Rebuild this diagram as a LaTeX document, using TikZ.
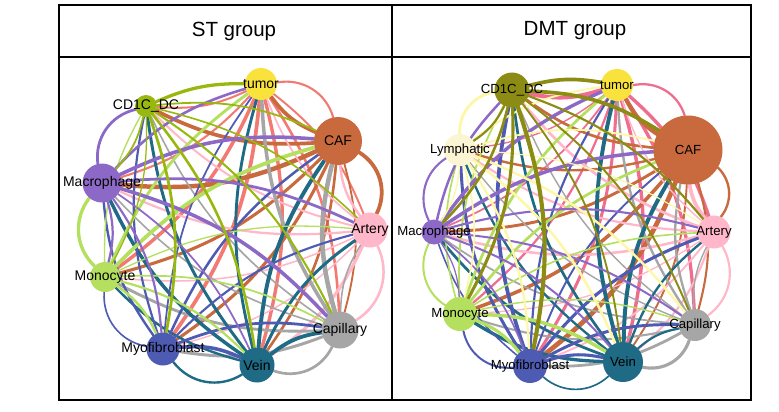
\documentclass[tikz,border=0pt]{standalone}
\usepackage{fontspec}
\setmainfont{Liberation Sans}
\usetikzlibrary{backgrounds}
\definecolor{col_tumor}{HTML}{F9E23C}
\definecolor{col_caf}{HTML}{C86A3E}
\definecolor{col_artery}{HTML}{FFB7C9}
\definecolor{col_capillary}{HTML}{A6A6A6}
\definecolor{col_vein}{HTML}{1F6A84}
\definecolor{col_myo}{HTML}{4E5BB2}
\definecolor{col_mono}{HTML}{B5DF5E}
\definecolor{col_macro}{HTML}{8D69C7}
\definecolor{col_dc_st}{HTML}{99B80F}
\definecolor{col_dc_dmt}{HTML}{8C8C14}
\definecolor{col_lymph}{HTML}{FBF5D3}
\definecolor{col_tumor_st}{HTML}{F27A72}
\definecolor{col_tumor_dmt}{HTML}{EF6D8E}
% link colours, by source cell
\colorlet{eL1}{col_tumor_st}
\colorlet{eL2}{col_caf}
\colorlet{eL3}{col_artery}
\colorlet{eL4}{col_capillary}
\colorlet{eL5}{col_vein}
\colorlet{eL6}{col_myo}
\colorlet{eL7}{col_mono}
\colorlet{eL8}{col_macro}
\colorlet{eL9}{col_dc_st}
\colorlet{eR1}{col_tumor_dmt}
\colorlet{eR2}{col_caf}
\colorlet{eR3}{col_artery}
\colorlet{eR4}{col_capillary}
\colorlet{eR5}{col_vein}
\colorlet{eR6}{col_myo}
\colorlet{eR7}{col_mono}
\colorlet{eR8}{col_macro}
\colorlet{eR9}{col_lymph!80!yellow}
\colorlet{eR10}{col_dc_dmt}
\def\strL{{0.85,1.0,0.6,0.7,0.8,0.75,0.6,0.8,0.55}}
\def\strR{{0.85,1.0,0.6,0.65,0.8,0.8,0.65,0.6,0.55,0.8}}
\tikzset{
	cellnode/.style = {
		circle,
		inner sep=0pt
	},
	cell_st/.style = {
		cellnode,
		label={[cellname, font=\fontsize{14}{14}\selectfont]center:#1}
	},
	cell_dmt/.style = {
		cellnode,
		label={[cellname, font=\fontsize{13.2}{13.2}\selectfont]center:#1}
	},
	cellname/.style = {
		inner sep=0pt,
		text=black
	},
	grouptitle/.style = {
		font=\fontsize{20.5}{20.5}\selectfont
	},
	frameline/.style = {
		draw=black,
		line width=2pt
	},
	link/.style = {
		line cap=round
	}
}

\begin{document}
\begin{tikzpicture}[x=1pt,y=-1pt]
\useasboundingbox (0,0) rectangle (779,412);
% table frame
\draw [frameline] (59,5) rectangle (751,400);
\draw [frameline] (59,57) -- (751,57);
\draw [frameline] (392,5) -- (392,400);
\node [grouptitle] (st_title) at (234,31) {ST group};
\node [grouptitle] (dmt_title) at (575,31) {DMT group};
% ST group
\node [cell_st=tumor, fill=col_tumor, minimum size=32] (L1) at (261,84) {};
\node [cell_st=CAF, fill=col_caf, minimum size=48] (L2) at (338,141) {};
\node [cell_st=Artery, fill=col_artery, minimum size=35] (L3) at (370,230) {};
\node [cell_st=Capillary, fill=col_capillary, minimum size=37] (L4) at (340,330) {};
\node [cell_st=Vein, fill=col_vein, minimum size=35] (L5) at (257,365) {};
\node [cell_st=Myofibroblast, fill=col_myo, minimum size=33] (L6) at (163,349) {};
\node [cell_st=Monocyte, fill=col_mono, minimum size=30] (L7) at (105,277) {};
\node [cell_st=Macrophage, fill=col_macro, minimum size=39] (L8) at (102,183) {};
\node [cell_st=CD1C\_DC, fill=col_dc_st, minimum size=22] (L9) at (146,106) {};
% DMT group
\node [cell_dmt=tumor, fill=col_tumor, minimum size=32] (R1) at (617,85) {};
\node [cell_dmt=CAF, fill=col_caf, minimum size=69] (R2) at (688,150) {};
\node [cell_dmt=Artery, fill=col_artery, minimum size=33] (R3) at (714,232) {};
\node [cell_dmt=Capillary, fill=col_capillary, minimum size=32] (R4) at (695,325) {};
\node [cell_dmt=Vein, fill=col_vein, minimum size=40] (R5) at (623,362) {};
\node [cell_dmt=Myofibroblast, fill=col_myo, minimum size=34] (R6) at (530,366) {};
\node [cell_dmt=Monocyte, fill=col_mono, minimum size=34] (R7) at (460,314) {};
\node [cell_dmt=Macrophage, fill=col_macro, minimum size=25] (R8) at (434,232) {};
\node [cell_dmt=Lymphatic, fill=col_lymph, minimum size=32] (R9) at (460,150) {};
\node [cell_dmt=CD1C\_DC, fill=col_dc_dmt, minimum size=35] (R10) at (512,90) {};
% links
\begin{scope}[on background layer]
\foreach \i in {1,...,9}{
	\foreach \j in {1,...,9}{
		\ifnum\i=\j\relax\else
			\pgfmathsetmacro{\w}{0.7+5.5*\strL[\i-1]*\strL[\j-1]*(0.3+0.7*mod(\i*7+\j*13,11)/10)}
			\pgfmathsetmacro{\b}{ifthenelse(mod(\j-\i+9,9)==1,ifthenelse(\i==9,12,42),15)}
			\draw [link, draw=eL\i, line width=\w] (L\i) to [bend left=\b] (L\j);
		\fi
	}
}
\foreach \i in {1,...,10}{
	\foreach \j in {1,...,10}{
		\ifnum\i=\j\relax\else
			\pgfmathsetmacro{\w}{0.6+5.5*\strR[\i-1]*\strR[\j-1]*(0.3+0.7*mod(\i*5+\j*11,13)/12)}
			\pgfmathsetmacro{\b}{ifthenelse(mod(\j-\i+10,10)==1,ifthenelse(\i==10,12,42),15)}
			\draw [link, draw=eR\i, line width=\w] (R\i) to [bend left=\b] (R\j);
		\fi
	}
}
\end{scope}
\end{tikzpicture}
\end{document}
